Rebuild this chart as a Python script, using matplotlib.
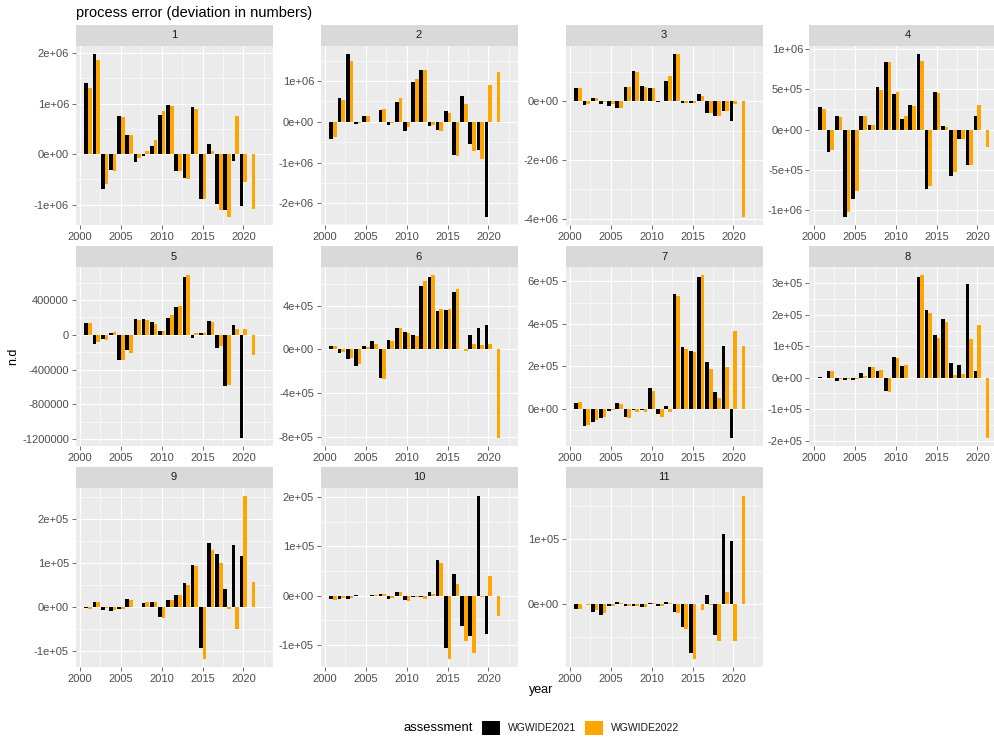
import numpy as np
import matplotlib.pyplot as plt
from matplotlib.patches import Patch

plt.rcParams['font.family'] = ['Liberation Sans', 'DejaVu Sans']

years = [2001, 2002, 2003, 2004, 2005, 2006, 2007, 2008, 2009, 2010,
         2011, 2012, 2013, 2014, 2015, 2016, 2017, 2018, 2019, 2020, 2021]
areas = ['1', '2', '3', '4', '5', '6', '7', '8', '9', '10', '11']
assessments = ['WGWIDE2021', 'WGWIDE2022']
colors = ['black', 'orange']

# values per area are given in these units
units = [1e6, 1e6, 1e6, 1e6, 1e3, 1e5, 1e5, 1e5, 1e5, 1e5, 1e5]
# y tick spacing per area (same units)
tick_step = [1, 1, 2, 0.5, 400, 4, 2, 1, 1, 1, 1]

# WGWIDE2021 (2001-2020)
wgwide2021 = [
    [1.40, 1.98, -0.68, -0.31, 0.76, 0.385, -0.15, -0.03, 0.17, 0.78, 0.98, -0.33, -0.47, 0.94, -0.89, 0.21, -0.98, -1.10, -0.13, -1.03],
    [-0.43, 0.58, 1.66, -0.06, 0.15, 0.0, 0.30, -0.07, 0.49, -0.23, 0.97, 1.27, -0.09, -0.21, 0.27, -0.81, 0.64, -0.55, -0.68, -2.33],
    [0.44, -0.14, 0.10, -0.09, -0.18, -0.25, 0.49, 1.03, 0.53, 0.44, -0.02, 0.70, 1.60, -0.08, -0.06, 0.25, -0.39, -0.49, -0.34, -0.68],
    [0.276, -0.276, 0.171, -1.08, -0.86, 0.171, 0.063, 0.53, 0.835, 0.443, 0.134, 0.30, 0.935, -0.73, 0.46, 0.05, -0.58, -0.12, -0.434, 0.175],
    [135, -108, -50, 27, -290, -178, 186, 186, 147, 50, 197, 317, 665, -31, 23, 158, -151, -584, 112, -1187],
    [0.34, -0.31, -0.89, -1.50, 0.28, 0.74, -2.64, 0.89, 1.99, 1.56, 1.29, 5.80, 6.63, 3.50, 3.56, 5.25, 0.06, 1.29, 1.93, 2.27],
    [0.25, -0.84, -0.62, -0.46, -0.10, 0.27, -0.38, -0.08, -0.08, 0.97, -0.25, 0.10, 5.41, 2.89, 2.71, 6.22, 2.19, 0.76, 2.94, -1.38],
    [0.02, 0.22, -0.11, -0.07, -0.07, 0.15, 0.33, 0.22, -0.42, 0.67, 0.36, -0.02, 3.20, 2.16, 1.35, 1.87, 0.48, 0.42, 2.98, 0.22],
    [-0.03, 0.10, -0.08, -0.11, -0.06, 0.16, -0.015, 0.08, 0.10, -0.24, 0.14, 0.26, 0.54, 0.95, -0.95, 1.45, 1.19, 0.40, 1.39, 1.15],
    [-0.075, -0.06, -0.075, 0.01, 0.0, 0.02, 0.034, -0.06, 0.08, -0.095, -0.03, -0.03, 0.08, 0.73, -1.05, 0.45, -0.61, -0.82, 2.02, -0.78],
    [-0.077, 0.0, -0.12, -0.17, -0.036, 0.026, -0.03, -0.036, -0.05, 0.015, -0.036, 0.026, -0.13, -0.36, -0.75, 0.0, 0.13, -0.47, 1.07, 0.97],
]

# WGWIDE2022 (2001-2021)
wgwide2022 = [
    [1.31, 1.86, -0.58, -0.33, 0.73, 0.385, -0.07, 0.07, 0.29, 0.86, 0.96, -0.33, -0.49, 0.90, -0.89, 0.06, -1.11, -1.24, 0.75, -0.56, -1.08],
    [-0.38, 0.53, 1.50, -0.02, 0.14, -0.01, 0.32, -0.02, 0.58, -0.13, 1.05, 1.27, -0.07, -0.22, 0.21, -0.83, 0.43, -0.72, -0.90, 0.90, 1.22],
    [0.44, -0.10, 0.09, -0.02, -0.11, -0.23, 0.49, 0.99, 0.48, 0.46, 0.0, 0.85, 1.60, -0.06, -0.08, 0.18, -0.40, -0.49, -0.34, -0.11, -3.94],
    [0.255, -0.246, 0.154, -1.015, -0.76, 0.175, 0.054, 0.497, 0.835, 0.463, 0.175, 0.288, 0.85, -0.70, 0.45, 0.033, -0.53, -0.117, -0.44, 0.31, -0.22],
    [135, -81, -54, 35, -290, -213, 170, 174, 128, 43, 224, 329, 688, 27, 23, 143, -128, -576, 73, 62, -232],
    [0.28, -0.21, -0.77, -1.32, 0.18, 0.49, -2.73, 0.80, 1.93, 1.47, 1.20, 6.23, 6.78, 3.71, 3.71, 5.49, -0.15, 0.49, 0.40, 0.49, -8.07],
    [0.30, -0.79, -0.56, -0.38, -0.06, 0.22, -0.43, -0.17, -0.14, 0.81, -0.38, -0.14, 5.32, 2.83, 2.68, 6.29, 1.86, 0.48, 1.97, 3.68, 2.94],
    [0.0, 0.22, -0.05, -0.04, -0.05, 0.07, 0.33, 0.26, -0.45, 0.64, 0.39, 0.0, 3.26, 2.05, 1.26, 1.76, 0.09, 0.11, 1.23, 1.68, -1.91],
    [-0.06, 0.10, -0.04, -0.08, -0.05, 0.14, -0.015, 0.10, 0.10, -0.26, 0.14, 0.26, 0.48, 0.92, -1.19, 1.29, 0.99, -0.06, -0.50, 2.51, 0.56],
    [-0.09, -0.04, -0.055, 0.0, 0.0, 0.014, 0.04, -0.04, 0.075, -0.115, -0.03, -0.06, 0.034, 0.67, -1.28, 0.24, -0.91, -1.17, -0.03, 0.40, -0.42],
    [-0.077, -0.01, -0.09, -0.14, -0.036, 0.01, -0.03, -0.036, -0.05, 0.015, -0.03, 0.01, -0.14, -0.38, -0.84, -0.09, -0.01, -0.56, 0.19, -0.57, 1.65],
]

W, H = 995, 742
fig = plt.figure(figsize=(W / 100, H / 100), dpi=100)

# facet grid geometry in pixels
col_left = [75.5, 320.5, 565.5, 809.5]
row_top = [46, 267, 488]
pw, ph, strip_h = 197, 179, 21
bar_w = 0.45


def sci_label(v):
    return f"{v:.0e}"


for i, area in enumerate(areas):
    r, c = divmod(i, 4)
    x0, y0 = col_left[c], row_top[r]
    ax = fig.add_axes([x0 / W, 1 - (y0 + ph) / H, pw / W, ph / H])
    sax = fig.add_axes([x0 / W, 1 - y0 / H, pw / W, strip_h / H])
    sax.set_facecolor('#D9D9D9')
    sax.set_xticks([])
    sax.set_yticks([])
    for s in sax.spines.values():
        s.set_visible(False)
    sax.text(0.5, 0.5, area, ha='center', va='center', fontsize=8,
             color='#1A1A1A', transform=sax.transAxes)

    u = units[i]
    v21 = np.array(wgwide2021[i]) * u
    v22 = np.array(wgwide2022[i]) * u
    x21 = np.array(years[:len(v21)])
    x22 = np.array(years[:len(v22)])
    ax.bar(x21 - bar_w / 2, v21, width=bar_w, color=colors[0], zorder=3)
    ax.bar(x22 + bar_w / 2, v22, width=bar_w, color=colors[1], zorder=3)

    lo = min(v21.min(), v22.min(), 0)
    hi = max(v21.max(), v22.max(), 0)
    pad = 0.05 * (hi - lo)
    ax.set_ylim(lo - pad, hi + pad)
    ax.set_xlim(1999.45, 2023.55)

    step = tick_step[i] * u
    ymaj = np.arange(np.ceil((lo - pad) / step) * step, hi + pad, step)
    ymaj = np.round(ymaj / step) * step + 0.0
    ymin = np.arange(np.ceil((lo - pad) / step - 0.5) * step + step / 2, hi + pad, step)
    ax.set_yticks(ymaj)
    ax.set_yticks(ymin, minor=True)
    if i == 4:
        ax.set_yticklabels([f"{v:.0f}" for v in ymaj])
    else:
        ax.set_yticklabels([sci_label(v) for v in ymaj])
    ax.set_xticks([2000, 2005, 2010, 2015, 2020])
    ax.set_xticks([2002.5, 2007.5, 2012.5, 2017.5, 2022.5], minor=True)

    ax.set_facecolor('#EBEBEB')
    ax.grid(which='major', color='white', lw=0.8, zorder=0)
    ax.grid(which='minor', color='white', lw=0.4, zorder=0)
    ax.set_axisbelow(True)
    for s in ax.spines.values():
        s.set_visible(False)
    ax.tick_params(which='major', length=2.7, width=0.5, color='#333333',
                   labelsize=8, labelcolor='#4D4D4D', pad=2)
    ax.tick_params(which='minor', length=0)

fig.text(76 / W, 1 - 13 / H, 'process error (deviation in numbers)',
         fontsize=10.5, ha='left', va='center')
fig.text(541 / W, 1 - 690 / H, 'year', fontsize=9, ha='center', va='center')
fig.text(13 / W, 1 - 356 / H, 'n.d', fontsize=9, ha='center', va='center',
         rotation=90)

# legend along the bottom
fig.text(404 / W, 1 - 728 / H, 'assessment', fontsize=9.4, ha='left',
         va='center')
handles = [Patch(facecolor=col, edgecolor='none') for col in colors]
fig.legend(handles, assessments, ncol=2, loc='center left',
           bbox_to_anchor=(482 / W, 1 - 728 / H), frameon=False,
           fontsize=7.5, handlelength=1.75, handleheight=1.7,
           handletextpad=0.75, columnspacing=0.8, borderpad=0,
           borderaxespad=0, labelcolor='#1A1A1A')

fig.savefig('out.png', dpi=100)
